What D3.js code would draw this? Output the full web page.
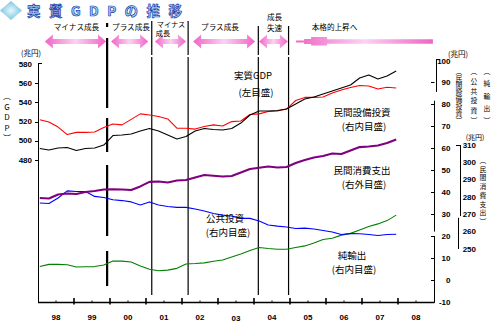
<!DOCTYPE html>
<html><head><meta charset="utf-8">
<script src="https://cdn.jsdelivr.net/npm/d3@7/dist/d3.min.js"></script>
<style>body{margin:0;background:#fff}svg{display:block}</style>
</head><body><svg id="c" width="493" height="322"></svg>
<script>
// ---------- data ----------
const quarters = ["1998Q1","1998Q2","1998Q3","1998Q4","1999Q1","1999Q2","1999Q3","1999Q4",
"2000Q1","2000Q2","2000Q3","2000Q4","2001Q1","2001Q2","2001Q3","2001Q4",
"2002Q1","2002Q2","2002Q3","2002Q4","2003Q1","2003Q2","2003Q3","2003Q4",
"2004Q1","2004Q2","2004Q3","2004Q4","2005Q1","2005Q2","2005Q3","2005Q4",
"2006Q1","2006Q2","2006Q3","2006Q4","2007Q1","2007Q2","2007Q3","2007Q4"];
// 実質GDP (left axis, 兆円)
const gdp = [492.0,490.4,492.5,493.0,489.9,492.0,492.5,495.6,505.5,506.0,507.1,510.2,512.8,510.2,506.0,501.9,
504.5,510.2,512.8,511.8,511.3,512.8,518.5,526.9,531.0,531.0,531.6,533.1,538.3,543.5,545.6,548.8,
551.9,555.0,558.1,565.4,568.5,564.4,567.5,572.7];
// 民間設備投資 (right inner axis)
const capex = [72.8,71.8,69.5,66.1,67.1,67.1,67.3,69.3,70.9,70.5,73.0,75.5,75.0,74.3,73.2,69.0,
69.0,68.6,69.8,70.5,70.0,72.0,72.3,75.2,75.5,76.6,76.8,77.7,81.6,83.0,83.0,83.2,
85.0,86.4,87.5,88.4,88.2,86.8,87.6,87.3];
// 民間消費支出 (right outer axis)
const consumption = [279.4,279.1,281.4,282.0,281.7,282.9,283.5,284.3,284.4,284.3,284.0,286.1,288.7,288.9,288.4,289.5,
289.8,291.3,292.7,292.3,291.8,292.1,294.1,296.2,296.9,297.6,297.0,297.3,299.6,301.3,302.8,303.7,
305.1,304.8,306.8,308.8,309.1,309.7,311.2,313.2];
// 公共投資 (right inner axis)
const publicInv = [35.0,34.8,37.3,40.5,40.2,40.2,38.0,37.5,36.5,36.1,35.5,34.1,35.5,34.1,33.4,33.0,
33.0,32.3,31.4,30.2,29.5,29.1,28.0,28.0,26.8,25.0,24.5,24.1,23.4,23.6,23.2,22.5,
21.8,20.7,21.1,21.0,20.7,20.2,20.7,20.8];
// 純輸出 (right inner axis)
const netExports = [6.1,7.1,7.1,6.9,5.9,6.0,6.1,6.8,8.6,8.6,8.2,6.4,4.9,4.2,4.5,5.3,
7.3,7.5,7.8,8.5,9.1,10.5,11.8,13.4,14.8,14.3,14.0,14.0,14.8,15.5,16.8,18.4,
19.0,20.4,21.2,22.7,24.3,25.5,27.0,29.5];

const yearLabels = ["98","99","00","01","02","03","04","05","06","07","08"];
const leftTicks = [480,500,520,540,560,580];
const innerTicks = [-10,0,10,20,30,40,50,60,70,80,90,100];
const outerTicks = [250,260,270,280,290,300,310];
const cycleLines = [2001.16, 2002.17, 2004.12, 2004.96];
const troughLine = 1999.92;
const phaseArrows = [[1998.19,1999.89],[2000.03,2001.06],[2001.25,2002.11],[2002.31,2004.03],[2004.14,2004.94]];
const upArrow = [2005.17, 2008.97];

// ---------- setup ----------
const svg = d3.select("#c");
const JP = "'Noto Sans CJK JP','Noto Sans',sans-serif";
const NUM = "'Liberation Sans',Arial,sans-serif";

const x = d3.scaleLinear().domain([1998, 2009]).range([38, 434]);
const xq = d3.scalePoint().domain(quarters).range([x(1998.05), x(2007.95)]);
const yL = d3.scaleLinear().domain([480, 580]).range([160, 64]);
const yR = d3.scaleLinear().domain([-10, 100]).range([302, 60]);
const yO = d3.scaleLinear().domain([250, 310]).range([249, 145]);

const defs = svg.append("defs");
const g1 = defs.append("linearGradient").attr("id","pk").attr("x1","0").attr("x2","1").attr("y1","0").attr("y2","0");
g1.append("stop").attr("offset","0").attr("stop-color","#f064c4");
g1.append("stop").attr("offset","0.5").attr("stop-color","#fbd2f4");
g1.append("stop").attr("offset","1").attr("stop-color","#f064c4");
const g2 = defs.append("radialGradient").attr("id","dia");
g2.append("stop").attr("offset","0").attr("stop-color","#e6f8fc");
g2.append("stop").attr("offset","1").attr("stop-color","#7cc4e0");

// ---------- title ----------
svg.append("polygon").attr("points","11,1 22,10.5 11,20 0,10.5").attr("fill","url(#dia)");
svg.append("text").attr("x",27).attr("y",15.5)
  .attr("textLength",155).attr("lengthAdjust","spacing")
  .style("font-family",JP).style("font-size","13.5px").style("font-weight","bold")
  .attr("fill","#a8d8f4").attr("stroke","#1c3ca8").attr("stroke-width",0.7)
  .text("実質GDPの推移");

// ---------- arrows ----------
const ay = 41.5;
function dblArrow(a, b){
  const x1 = x(a), x2 = x(b), h = 7, s = 2.6, hl = 8;
  const p = `M${x1},${ay} L${x1+hl},${ay-h} L${x1+hl},${ay-s} L${x2-hl},${ay-s} L${x2-hl},${ay-h} L${x2},${ay} L${x2-hl},${ay+h} L${x2-hl},${ay+s} L${x1+hl},${ay+s} L${x1+hl},${ay+h} Z`;
  svg.append("path").attr("d",p).attr("fill","url(#pk)");
}
phaseArrows.forEach(d => dblArrow(d[0], d[1]));
(function(){
  const x1 = x(upArrow[0]), x2 = x(upArrow[1]);
  const p = `M${x1},${ay-1} L${x1+8},${ay-1} L${x1+8},${ay-2.5} L${x1+15},${ay-2.5} L${x1+15},${ay-4.5} L${x1+31},${ay-4.5} L${x1+31},${ay-2.2} L${x2},${ay-2.2} L${x2},${ay+2.2} L${x1+31},${ay+2.2} L${x1+31},${ay+4} L${x1+15},${ay+4} L${x1+15},${ay+2.5} L${x1+8},${ay+2.5} L${x1+8},${ay+1} L${x1},${ay+1} Z`;
  svg.append("path").attr("d",p).attr("fill","url(#pk)");
})();

// top labels
const topLab = [["マイナス成長",76.5,26,7.6],["プラス成長",131,26,7.6],["マイナス",171,23.5,7.2],["成長",163,33,7.2],
  ["プラス成長",220,26,7.6],["成長",274.5,16,7.6],["失速",274.5,27,7.6],["本格的上昇へ",334.5,26,7.6]];
svg.selectAll("text.top").data(topLab).join("text").attr("class","top")
  .attr("x",d=>d[1]).attr("y",d=>d[2]).attr("text-anchor","middle").attr("dominant-baseline","central")
  .style("font-family",JP).style("font-size",d=>d[3]+"px").attr("fill","#000").text(d=>d[0]);

// ---------- business cycle lines ----------
cycleLines.forEach((t,i) => {
  const top = i < 2 ? 21 : 26;
  svg.append("line").attr("x1",x(t)).attr("x2",x(t)).attr("y1",top).attr("y2",55).attr("stroke","#000").attr("stroke-width",1.2);
  svg.append("line").attr("x1",x(t)).attr("x2",x(t)).attr("y1",57).attr("y2",295).attr("stroke","#000").attr("stroke-width",1.2);
});
[[23,27],[38,108],[118,152],[165,236],[251,286]].forEach(s => {
  svg.append("line").attr("x1",x(troughLine)).attr("x2",x(troughLine)).attr("y1",s[0]).attr("y2",s[1])
    .attr("stroke","#000").attr("stroke-width",2.2);
});

// ---------- axes ----------
// left axis
svg.append("line").attr("x1",38.5).attr("x2",38.5).attr("y1",yL(580)-1).attr("y2",302).attr("stroke","#000");
svg.append("line").attr("x1",38.5).attr("x2",42).attr("y1",yL(580)-0.5).attr("y2",yL(580)-0.5).attr("stroke","#000");
svg.selectAll("line.lt").data(leftTicks.filter(v=>v<580)).join("line").attr("class","lt")
  .attr("x1",35).attr("x2",38.5).attr("y1",d=>Math.round(yL(d))+0.5).attr("y2",d=>Math.round(yL(d))+0.5).attr("stroke","#000");
svg.selectAll("text.lt").data(leftTicks).join("text").attr("class","lt")
  .attr("x",32).attr("y",d=>yL(d)).attr("text-anchor","end").attr("dominant-baseline","central")
  .style("font-family",NUM).style("font-size","8px").style("font-weight","bold").text(d=>d);
svg.append("text").attr("x",31).attr("y",52).attr("text-anchor","middle").attr("dominant-baseline","central")
  .style("font-family",JP).style("font-size","7.5px").text("(兆円)");

// vertical label helper (single text element, vertical writing mode)
function vtext(str, cx, y0, len, size){
  svg.append("text").attr("x",cx).attr("y",y0)
    .attr("textLength",len).attr("lengthAdjust","spacing")
    .style("writing-mode","vertical-rl").style("text-orientation","upright")
    .style("font-family",JP).style("font-size",size+"px").text(str);
}
vtext("（GDP）", 7, 92, 50, 8);

// x axis
svg.append("line").attr("x1",38).attr("x2",434.5).attr("y1",302.5).attr("y2",302.5).attr("stroke","#000").attr("stroke-width",1.3);
const majors = d3.range(1999, 2009);
svg.selectAll("line.mj").data(majors).join("line").attr("class","mj")
  .attr("x1",d=>x(d)).attr("x2",d=>x(d)).attr("y1",298).attr("y2",304.5).attr("stroke","#000").attr("stroke-width",1.6);
const minors = d3.range(1998.5, 2009, 1);
svg.selectAll("line.mn").data(minors).join("line").attr("class","mn")
  .attr("x1",d=>x(d)).attr("x2",d=>x(d)).attr("y1",300.5).attr("y2",302).attr("stroke","#000").attr("stroke-width",1);
svg.selectAll("text.yr").data(yearLabels).join("text").attr("class","yr")
  .attr("x",(d,i)=>x(1998.5+i)).attr("y",(d,i)=> i===5 ? 318.8 : 317.8).attr("text-anchor","middle").attr("dominant-baseline","central")
  .style("font-family",NUM).style("font-size","8px").style("font-weight","bold").text(d=>d);

// right inner axis
[[436.5,yR(100)-1,yR(85.5)],[434.5,yR(81.5),yR(22)],[434.5,yR(20),302.5]].forEach(s=>{
  svg.append("line").attr("x1",s[0]).attr("x2",s[0]).attr("y1",s[1]).attr("y2",s[2]).attr("stroke","#000");
});
svg.append("line").attr("x1",436.5).attr("x2",440).attr("y1",yR(100)-0.5).attr("y2",yR(100)-0.5).attr("stroke","#000");
svg.selectAll("line.rt").data(innerTicks.filter(v=>v<100)).join("line").attr("class","rt")
  .attr("x1",431).attr("x2",434.5).attr("y1",d=>Math.round(yR(d))+0.5).attr("y2",d=>Math.round(yR(d))+0.5).attr("stroke","#000");
svg.selectAll("text.rt").data(innerTicks).join("text").attr("class","rt")
  .attr("x",450.5).attr("y",d=>yR(d)+(d===100?1.5:0)).attr("text-anchor","end").attr("dominant-baseline","central")
  .style("font-family",NUM).style("font-size","8px").style("font-weight","bold").text(d=>d);
svg.append("text").attr("x",458).attr("y",53).attr("text-anchor","middle").attr("dominant-baseline","central")
  .style("font-family",JP).style("font-size","7.5px").text("(兆円)");
vtext("（民間設備投資）", 459, 68, 56, 6.8);
vtext("（公共投資）", 474, 68, 56, 6.8);
vtext("（純輸出）", 487, 68, 56, 6.8);

// right outer axis
svg.append("line").attr("x1",460.5).attr("x2",460.5).attr("y1",yO(310)).attr("y2",yO(269)).attr("stroke","#000");
svg.append("line").attr("x1",458.5).attr("x2",458.5).attr("y1",yO(268)).attr("y2",yO(250)).attr("stroke","#000");
svg.append("line").attr("x1",456).attr("x2",460.5).attr("y1",yO(310)+0.5).attr("y2",yO(310)+0.5).attr("stroke","#000");
svg.selectAll("text.ot").data(outerTicks).join("text").attr("class","ot")
  .attr("x",476).attr("y",d=>yO(d)).attr("text-anchor","end").attr("dominant-baseline","central")
  .style("font-family",NUM).style("font-size","8px").style("font-weight","bold").text(d=>d);
svg.append("text").attr("x",475).attr("y",136.5).attr("text-anchor","middle").attr("dominant-baseline","central")
  .style("font-family",JP).style("font-size","7px").text("(兆円)");
vtext("（民間消費支出）", 483, 157, 68, 6.8);

// ---------- series ----------
function series(vals, yScale, color, width){
  const line = d3.line().x((d,i)=>xq(quarters[i])).y(d=>yScale(d));
  svg.append("path").datum(vals).attr("d",line).attr("fill","none").attr("stroke",color)
    .attr("stroke-width",width).attr("stroke-linejoin","round");
}
series(netExports, yR, "#008000", 1.1);
series(publicInv, yR, "#0000ff", 1.1);
series(consumption, yO, "#800080", 2.1);
series(capex, yR, "#ff0000", 1.1);
series(gdp, yL, "#000000", 1.1);

// ---------- in-plot labels ----------
const labels = [["実質GDP",253,75],["(左目盛)",256,92],["民間設備投資",362,112],["(右内目盛)",364,125.5],
  ["民間消費支出",362,170],["(右外目盛)",364,183.5],["公共投資",225,218],["(右内目盛)",228,231.5],
  ["純輸出",352,255],["(右内目盛)",354,268.5]];
svg.selectAll("text.lab").data(labels).join("text").attr("class","lab")
  .attr("x",d=>d[1]).attr("y",d=>d[2]).attr("text-anchor","middle").attr("dominant-baseline","central")
  .style("font-family",JP).style("font-size","9.5px").text(d=>d[0]);
</script></body></html>
